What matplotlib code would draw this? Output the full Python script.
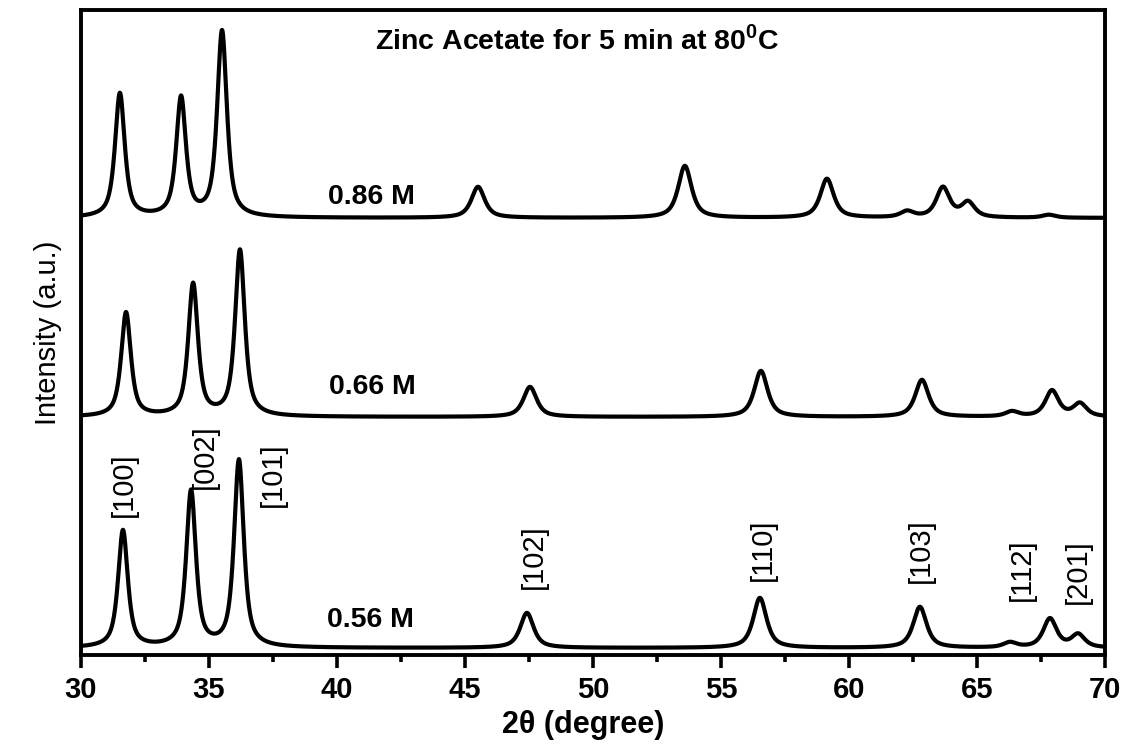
import numpy as np
import matplotlib
matplotlib.use("Agg")
import matplotlib.pyplot as plt

plt.rcParams['font.family'] = ['Liberation Sans', 'DejaVu Sans']
plt.rcParams['mathtext.fontset'] = 'custom'
plt.rcParams['mathtext.rm'] = 'Liberation Sans'
plt.rcParams['mathtext.bf'] = 'Liberation Sans:bold'

# peak positions (2theta, deg), heights (a.u.) and widths (fwhm, deg)
pos_056 = [31.64, 34.30, 36.17, 47.42, 56.52, 62.77, 66.29, 67.85, 68.95]
hgt_056 = [117, 156, 187, 35, 50, 41, 5, 29, 13]
pos_066 = [31.76, 34.38, 36.21, 47.54, 56.56, 62.85, 66.37, 67.93, 69.02]
hgt_066 = [104, 132, 166, 30, 46, 37, 5, 26, 13]
pos_086 = [31.52, 33.91, 35.51, 45.51, 53.59, 59.14, 62.27, 63.67, 64.65, 67.81]
hgt_086 = [124, 119, 186, 31, 52, 39, 6, 30, 15, 3]
fwhm_low = 0.45    # peaks below 40 deg
fwhm_high = 0.62   # peaks above 40 deg

offsets = [0, 231, 430]
sample_labels = ["0.56 M", "0.66 M", "0.86 M"]

hkl = ["[100]", "[002]", "[101]", "[102]", "[110]", "[103]", "[112]", "[201]"]
hkl_x = [31.66, 34.84, 37.50, 47.70, 56.64, 62.81, 66.76, 68.95]
hkl_y = [163, 191, 173, 91, 98, 97, 78, 76]

tt = np.linspace(30, 70, 4000)


def pattern(pos, hgt):
    y = np.zeros_like(tt)
    for p, h in zip(pos, hgt):
        w = fwhm_low if p < 40 else fwhm_high
        lor = 1 / (1 + ((tt - p) / (w / 2)) ** 2)
        gau = np.exp(-4 * np.log(2) * ((tt - p) / w) ** 2)
        y += h * (0.75 * lor + 0.25 * gau)
    return y


fig = plt.figure(figsize=(11.31, 7.44), dpi=100)
ax = fig.add_axes([0.0716, 0.1196, 0.9054, 0.867])

series = [(pos_056, hgt_056), (pos_066, hgt_066), (pos_086, hgt_086)]
for (pos, hgt), off in zip(series, offsets):
    ax.plot(tt, pattern(pos, hgt) + off, color='black', lw=3.0)

label_pos = [(39.6, 28), (39.7, 261), (39.65, 451)]
for (lx, ly), txt in zip(label_pos, sample_labels):
    ax.text(lx, ly, txt, fontsize=20.5, fontweight='bold', va='center', ha='left')

for txt, x, y in zip(hkl, hkl_x, hkl_y):
    ax.text(x, y, txt, rotation=90, fontsize=21, ha='center', va='center')

ax.text(49.4, 608, r"Zinc Acetate for 5 min at 80$^{\mathbf{0}}$C",
        fontsize=20.5, fontweight='bold', ha='center', va='center')

ax.set_xlim(30, 70)
ax.set_ylim(-7, 638)
ax.set_xticks(np.arange(30, 71, 5))
ax.set_xticks(np.arange(32.5, 70, 5), minor=True)
ax.set_yticks([])
ax.tick_params(axis='x', which='major', direction='out', length=9, width=2.6,
               labelsize=21, pad=6)
ax.tick_params(axis='x', which='minor', direction='out', length=5, width=2.6)
for lab in ax.get_xticklabels():
    lab.set_fontweight('bold')
for sp in ax.spines.values():
    sp.set_linewidth(2.8)

ax.set_xlabel("2θ (degree)", fontsize=22, fontweight='bold')
ax.xaxis.set_label_coords(0.49, -0.085)
ax.set_ylabel("Intensity (a.u.)", fontsize=21, labelpad=14)

fig.savefig("out.png", dpi=100)
